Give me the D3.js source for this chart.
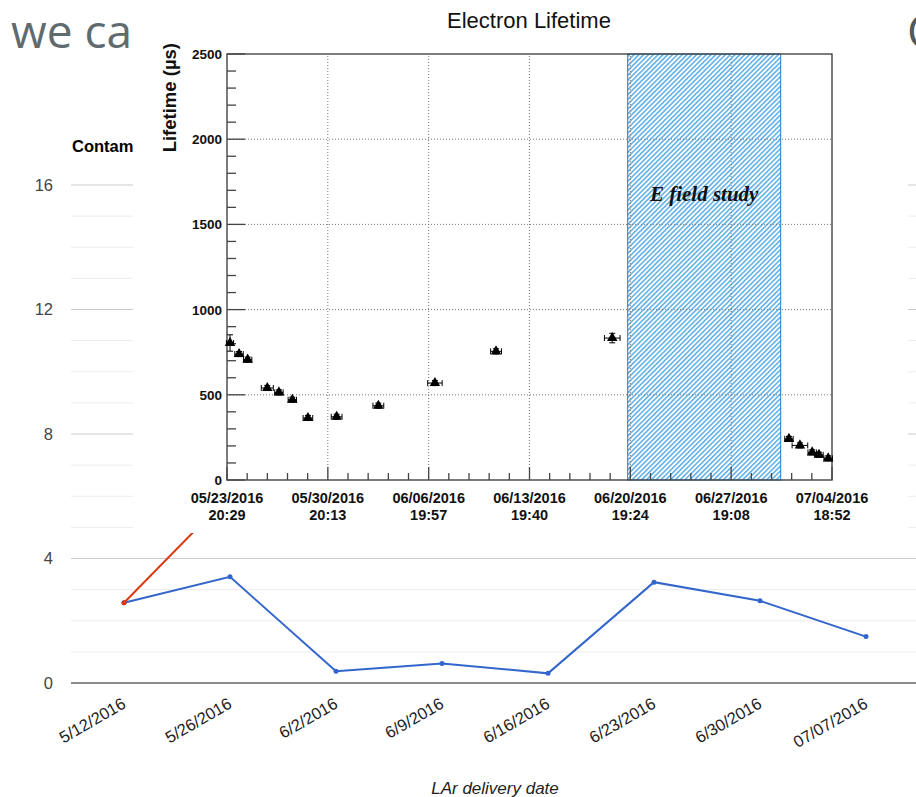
<!DOCTYPE html>
<html><head><meta charset="utf-8">
<script src="https://cdn.jsdelivr.net/npm/d3@7"></script>
<style>html,body{margin:0;padding:0;background:#fff;overflow:hidden}</style>
</head><body>
<svg id="chart" width="916" height="797"></svg>
<script>
// ---- Background chart (contamination vs LAr delivery date) ----
const deliveryDates = ["5/12/2016","5/26/2016","6/2/2016","6/9/2016","6/16/2016","6/23/2016","6/30/2016","07/07/2016"];
const contaminationBlue = [2.58,3.41,0.38,0.63,0.31,3.24,2.64,1.49];
const contaminationRed = [2.58,6.05,null,null,null,null,null,null];
const bgMajorTicks = [0,4,8,12,16];
const bgMinorTicks = [1,2,3,5,6,7,9,10,11,13,14,15];

// ---- Inset chart (Electron Lifetime) ----
const lifetimeTimes = ["05/24/2016 01:30","05/24/2016 16:30","05/25/2016 06:50","05/26/2016 15:30","05/27/2016 10:50","05/28/2016 09:10","05/29/2016 11:05","05/31/2016 10:50","06/03/2016 08:15","06/07/2016 06:20","06/11/2016 12:00","06/19/2016 13:20","07/01/2016 19:15","07/02/2016 13:30","07/03/2016 09:55","07/03/2016 21:10","07/04/2016 12:30"];
const lifetimeValues = [804,739,706,540,514,471,364,371,436,569,755,833,241,203,162,148,127];
const lifetimeXErrHours = [6,7,7,10,7,7,8,9,9,12,9,13,7,13,7,7,7];
const lifetimeYErr = [48,15,15,15,15,15,15,15,15,15,15,28,15,15,15,15,15];
const lifetimeTickLabels = ["05/23/2016 20:29","05/30/2016 20:13","06/06/2016 19:57","06/13/2016 19:40","06/20/2016 19:24","06/27/2016 19:08","07/04/2016 18:52"];
const lifetimeYTicks = [0,500,1000,1500,2000,2500];
const eFieldStudy = ["06/20/2016 15:00","07/01/2016 05:30"];

const svg = d3.select("#chart");
const sans = "'Liberation Sans', Arial, Helvetica, sans-serif";

// slide text behind
svg.append("text").attr("x",11).attr("y",48).attr("font-family","'Open Sans', sans-serif")
  .attr("font-size",46).attr("fill","#5f6b6e").text("we can see");
svg.append("text").attr("x",907).attr("y",48).attr("font-family","'Open Sans', sans-serif")
  .attr("font-size",46).attr("fill","#4e5a5c").text("C");
svg.append("text").attr("x",72).attr("y",152).attr("font-family",sans).attr("font-weight","bold")
  .attr("font-size",16.5).attr("fill","#000").text("Contamination");

// background chart
const bx = d3.scaleBand().domain(deliveryDates).range([71,919]);
const cx = d => bx(d) + bx.bandwidth()/2;
const by = d3.scaleLinear().domain([0,16]).range([683,185]);

const bg = svg.append("g");
bg.selectAll("line.minor").data(bgMinorTicks).join("line").attr("class","minor")
  .attr("x1",71).attr("x2",919).attr("y1",d=>by(d)).attr("y2",d=>by(d))
  .attr("stroke","#ececec").attr("stroke-width",1);
bg.selectAll("line.major").data(bgMajorTicks.filter(d=>d>0)).join("line").attr("class","major")
  .attr("x1",71).attr("x2",919).attr("y1",d=>by(d)).attr("y2",d=>by(d))
  .attr("stroke","#cccccc").attr("stroke-width",1);
bg.append("line").attr("x1",71).attr("x2",919).attr("y1",by(0)).attr("y2",by(0))
  .attr("stroke","#666").attr("stroke-width",1.6);

const yAx = bg.append("g").attr("transform","translate(71,0)")
  .call(d3.axisLeft(by).tickValues(bgMajorTicks).tickSize(0).tickPadding(18));
yAx.select(".domain").remove();
yAx.selectAll("text").attr("font-family",sans).attr("font-size",16.5).attr("fill","#444");

bg.selectAll("text.xl").data(deliveryDates).join("text").attr("class","xl")
  .attr("transform",d=>`translate(${cx(d)+3},707) rotate(-30)`)
  .attr("text-anchor","end").attr("font-family",sans).attr("font-size",16.5).attr("fill","#222")
  .text(d=>d);
bg.append("text").attr("x",495).attr("y",794).attr("text-anchor","middle")
  .attr("font-family",sans).attr("font-style","italic").attr("font-size",17).attr("fill","#222")
  .text("LAr delivery date");

const lineGen = d3.line().defined(d=>d.v!=null).x(d=>cx(d.k)).y(d=>by(d.v));
const blueData = deliveryDates.map((k,i)=>({k,v:contaminationBlue[i]}));
const redData = deliveryDates.map((k,i)=>({k,v:contaminationRed[i]}));
bg.append("path").datum(blueData).attr("d",lineGen).attr("fill","none").attr("stroke","#3366cc").attr("stroke-width",2);
bg.selectAll("circle.b").data(blueData).join("circle").attr("class","b")
  .attr("cx",d=>cx(d.k)).attr("cy",d=>by(d.v)).attr("r",2.5).attr("fill","#3366cc");
bg.append("path").datum(redData).attr("d",lineGen).attr("fill","none").attr("stroke","#dc3912").attr("stroke-width",2);
bg.selectAll("circle.r").data(redData.filter(d=>d.v!=null)).join("circle").attr("class","r")
  .attr("cx",d=>cx(d.k)).attr("cy",d=>by(d.v)).attr("r",2.5).attr("fill","#dc3912");

// ---- Inset ----
const parse = d3.utcParse("%m/%d/%Y %H:%M");
const ins = svg.append("g");
ins.append("rect").attr("x",133).attr("y",0).attr("width",775).attr("height",533).attr("fill","#fff");

const tickDates = lifetimeTickLabels.map(parse);
const ix = d3.scaleUtc().domain([tickDates[0], tickDates[tickDates.length-1]]).range([227,832]);
const iy = d3.scaleLinear().domain([0,2500]).range([480,54]);

const defs = svg.append("defs");
const pat = defs.append("pattern").attr("id","hatch").attr("patternUnits","userSpaceOnUse")
  .attr("width",3.4).attr("height",3.4).attr("patternTransform","rotate(45)");
pat.append("rect").attr("width",3.4).attr("height",3.4).attr("fill","#ffffff");
pat.append("line").attr("x1",0.8).attr("y1",0).attr("x2",0.8).attr("y2",3.4)
  .attr("stroke","#3f9fe0").attr("stroke-width",1.3);

const bandX0 = ix(parse(eFieldStudy[0])), bandX1 = ix(parse(eFieldStudy[1]));
ins.append("rect").attr("x",bandX0).attr("y",iy(2500)).attr("width",bandX1-bandX0)
  .attr("height",iy(0)-iy(2500)).attr("fill","url(#hatch)").attr("stroke","#2a78c4").attr("stroke-width",1);

// grid
ins.selectAll("line.gy").data(lifetimeYTicks.filter(d=>d>0 && d<2500)).join("line").attr("class","gy")
  .attr("x1",227).attr("x2",832).attr("y1",d=>iy(d)).attr("y2",d=>iy(d))
  .attr("stroke","#777").attr("stroke-width",1).attr("stroke-dasharray","1,2");
ins.selectAll("line.gx").data(tickDates.slice(1,-1)).join("line").attr("class","gx")
  .attr("x1",d=>ix(d)).attr("x2",d=>ix(d)).attr("y1",iy(0)).attr("y2",iy(2500))
  .attr("stroke","#777").attr("stroke-width",1).attr("stroke-dasharray","1,2");

// ticks
const yMinor = d3.range(0,2501,100).filter(v=>v%500!==0);
ins.selectAll("line.ytM").data(lifetimeYTicks).join("line").attr("class","ytM")
  .attr("x1",227).attr("x2",245).attr("y1",d=>iy(d)).attr("y2",d=>iy(d)).attr("stroke","#444").attr("stroke-width",1.3);
ins.selectAll("line.ytm").data(yMinor).join("line").attr("class","ytm")
  .attr("x1",227).attr("x2",236).attr("y1",d=>iy(d)).attr("y2",d=>iy(d)).attr("stroke","#444").attr("stroke-width",1.3);
const xMinor = [];
for (let i=0;i<tickDates.length-1;i++){
  const a=+tickDates[i], b=+tickDates[i+1];
  for (let k=1;k<5;k++) xMinor.push(new Date(a+(b-a)*k/5));
}
ins.selectAll("line.xtM").data(tickDates).join("line").attr("class","xtM")
  .attr("x1",d=>ix(d)).attr("x2",d=>ix(d)).attr("y1",480).attr("y2",467).attr("stroke","#444").attr("stroke-width",1.3);
ins.selectAll("line.xtm").data(xMinor).join("line").attr("class","xtm")
  .attr("x1",d=>ix(d)).attr("x2",d=>ix(d)).attr("y1",480).attr("y2",473).attr("stroke","#444").attr("stroke-width",1.3);

// frame
ins.append("rect").attr("x",227).attr("y",54).attr("width",605).attr("height",426)
  .attr("fill","none").attr("stroke","#444").attr("stroke-width",1.4);

// labels
ins.selectAll("text.yl").data(lifetimeYTicks).join("text").attr("class","yl")
  .attr("x",222).attr("y",d=>iy(d)+5).attr("text-anchor","end")
  .attr("font-family",sans).attr("font-weight","bold").attr("font-size",13.5).attr("fill","#111").text(d=>d);
const xl = ins.selectAll("text.xl2").data(lifetimeTickLabels).join("text").attr("class","xl2")
  .attr("text-anchor","middle").attr("font-family",sans).attr("font-weight","bold")
  .attr("font-size",14.5).attr("fill","#111");
xl.append("tspan").attr("x",(d,i)=>ix(tickDates[i])).attr("y",503).text(d=>d.split(" ")[0]);
xl.append("tspan").attr("x",(d,i)=>ix(tickDates[i])).attr("y",520).text(d=>d.split(" ")[1]);

ins.append("text").attr("transform","translate(176,43) rotate(-90)").attr("text-anchor","end")
  .attr("font-family",sans).attr("font-weight","bold").attr("font-size",18.5).attr("fill","#111")
  .text("Lifetime (\u00b5s)");
ins.append("text").attr("x",529).attr("y",28).attr("text-anchor","middle")
  .attr("font-family",sans).attr("font-size",22).attr("fill","#111").text("Electron Lifetime");
ins.append("text").attr("x",(bandX0+bandX1)/2).attr("y",201).attr("text-anchor","middle")
  .attr("font-family","'Liberation Serif', 'Times New Roman', serif").attr("font-weight","bold")
  .attr("font-style","italic").attr("font-size",21).attr("fill","#111").text("E field study");

// data points with error bars
const pts = lifetimeTimes.map((t,i)=>({t:parse(t), v:lifetimeValues[i], ex:lifetimeXErrHours[i]*3600000, ey:lifetimeYErr[i]}));
const pg = ins.append("g").attr("stroke","#000").attr("stroke-width",1);
pts.forEach(p=>{
  const x0=ix(new Date(+p.t-p.ex)), x1=ix(new Date(+p.t+p.ex)), xc=ix(p.t), yc=iy(p.v);
  const y0=iy(p.v-p.ey), y1=iy(p.v+p.ey);
  pg.append("line").attr("x1",x0).attr("x2",x1).attr("y1",yc).attr("y2",yc);
  pg.append("line").attr("x1",x0).attr("x2",x0).attr("y1",yc-3).attr("y2",yc+3);
  pg.append("line").attr("x1",x1).attr("x2",x1).attr("y1",yc-3).attr("y2",yc+3);
  pg.append("line").attr("x1",xc).attr("x2",xc).attr("y1",y0).attr("y2",y1);
  pg.append("line").attr("x1",xc-3).attr("x2",xc+3).attr("y1",y0).attr("y2",y0);
  pg.append("line").attr("x1",xc-3).attr("x2",xc+3).attr("y1",y1).attr("y2",y1);
});
ins.selectAll("path.mk").data(pts).join("path").attr("class","mk")
  .attr("transform",d=>`translate(${ix(d.t)},${iy(d.v)})`)
  .attr("d",d3.symbol(d3.symbolTriangle,48)).attr("fill","#000");
</script>
</body></html>
